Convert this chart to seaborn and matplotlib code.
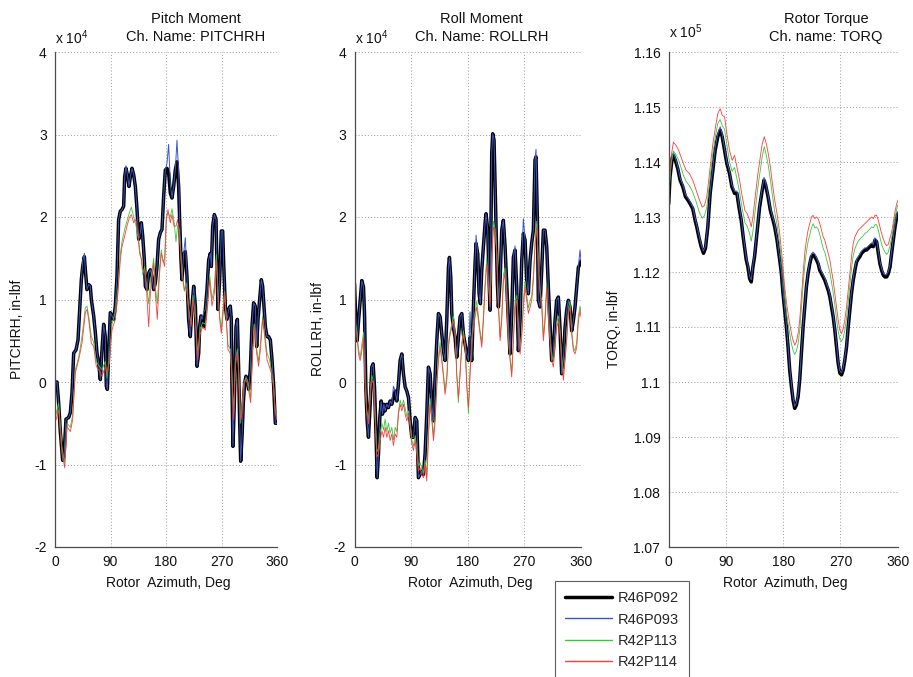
import numpy as np
import pandas as pd
import matplotlib
matplotlib.use("Agg")
import matplotlib.pyplot as plt
from matplotlib.lines import Line2D
import seaborn as sns

sns.set_style("white")
plt.rcParams["font.family"] = ["Liberation Sans", "DejaVu Sans"]
plt.rcParams["mathtext.fontset"] = "custom"
plt.rcParams["mathtext.rm"] = "Liberation Sans"
plt.rcParams["mathtext.it"] = "Liberation Sans"
plt.rcParams["axes.unicode_minus"] = False

RUNS = ["R46P092", "R46P093", "R42P113", "R42P114"]
COLORS = {"R46P092": "#000000", "R46P093": "#3a55c8", "R42P113": "#3cc43c", "R42P114": "#ff3b3b"}
WIDTHS = {"R46P092": 2.5, "R46P093": 0.7, "R42P113": 0.6, "R42P114": 0.6}

# ---------------- Pitch moment (x 1e4 in-lbf) ----------------
pitch_az_a = [0.0, 3.2, 5.9, 8.6, 12.4, 14.6, 17.8, 22.2, 24.9, 27.6,
              30.3, 34.1, 37.3, 39.5, 42.7, 44.9, 47.6, 49.2, 51.9, 54.6,
              57.3, 58.9, 62.7, 65.4, 68.1, 70.8, 73.5, 76.2, 78.9, 81.6,
              83.2, 84.9, 87.0, 89.7, 92.4, 95.1, 97.8, 100.5, 103.2, 105.9,
              108.6, 111.3, 113.0, 115.1, 117.8, 120.0, 122.2, 124.9, 127.6, 130.3,
              133.0, 135.7, 138.4, 140.0, 142.2, 144.9, 146.5, 149.2, 151.9, 154.6,
              157.3, 160.0, 162.7, 165.4, 168.1, 170.8, 173.5, 176.2, 178.9, 181.6,
              184.3, 187.0, 189.7, 192.4, 195.1, 197.8, 200.5, 202.1, 204.3, 205.9,
              208.6, 211.3, 214.0, 216.7, 219.4, 222.1, 224.9, 227.6, 230.3, 233.0,
              234.6, 236.7, 238.4, 241.1, 243.8, 246.5, 249.2, 251.9, 253.5, 255.7,
              258.4, 261.1, 262.7, 264.3, 267.0, 269.7, 271.9, 273.5, 276.2, 278.9,
              281.6, 284.3, 285.9, 287.0, 288.6, 290.8, 293.5, 295.7, 297.8, 299.4,
              301.1, 303.3, 305.4, 307.6, 309.7, 311.9, 314.0, 316.7, 319.4, 322.1,
              324.8, 327.0, 329.2, 331.9, 334.6, 336.7, 338.9, 341.1, 343.8, 346.5,
              349.2, 351.9, 354.6, 357.3, 360.0]
pitch_r46p092 = [0.0, 0.0, -0.25, -0.6, -0.95, -0.9, -0.45, -0.43, -0.37, -0.13,
                 0.35, 0.39, 0.51, 0.8, 1.24, 1.4, 1.52, 1.36, 1.12, 1.18,
                 1.16, 1.0, 0.8, 0.6, 0.35, 0.23, 0.03, 0.39, 0.7, 0.55,
                 -0.05, -0.09, 0.35, 0.84, 0.80, 0.76, 0.92, 1.28, 1.97, 2.07,
                 2.09, 2.13, 2.49, 2.59, 2.49, 2.37, 2.49, 2.59, 2.51, 2.37,
                 2.09, 1.73, 1.81, 1.93, 1.77, 1.48, 1.16, 1.12, 1.32, 1.36,
                 1.28, 1.12, 1.20, 1.40, 1.73, 1.81, 1.85, 2.25, 2.57, 2.59,
                 2.53, 2.29, 2.23, 2.37, 2.57, 2.67, 2.37, 1.97, 1.48, 1.24,
                 1.55, 1.58, 1.28, 0.76, 0.55, 0.92, 1.16, 0.92, 0.19, 0.35,
                 0.67, 0.80, 0.76, 0.67, 0.88, 1.12, 1.48, 1.56, 1.40, 1.89,
                 2.03, 1.97, 1.36, 0.88, 1.24, 1.83, 1.83, 1.44, 0.92, 0.76,
                 0.88, 0.92, 0.76, -0.05, -0.78, -0.25, 0.67, 0.76, 0.15, -0.46,
                 -0.96, -0.66, -0.25, -0.01, 0.07, 0.03, -0.09, 0.15, 0.67, 0.96,
                 0.92, 0.43, 0.76, 1.00, 1.24, 1.16, 0.92, 0.67, 0.55, 0.55,
                 0.51, 0.27, -0.05, -0.5, -0.5]
pitch_r46p093 = [0.0, 0.0, -0.25, -0.6, -0.95, -0.9, -0.45, -0.43, -0.37, -0.13,
                 0.35, 0.39, 0.51, 0.8, 1.24, 1.46, 1.56, 1.36, 1.12, 1.18,
                 1.16, 1.0, 0.8, 0.6, 0.35, 0.23, 0.03, 0.39, 0.7, 0.55,
                 -0.05, -0.09, 0.35, 0.84, 0.80, 0.76, 0.92, 1.28, 1.97, 2.07,
                 2.09, 2.13, 2.49, 2.62, 2.49, 2.37, 2.49, 2.59, 2.51, 2.37,
                 2.09, 1.73, 1.81, 1.93, 1.77, 1.48, 1.16, 1.12, 1.32, 1.36,
                 1.28, 1.12, 1.20, 1.40, 1.73, 1.81, 1.85, 2.25, 2.57, 2.65,
                 2.88, 2.40, 2.23, 2.37, 2.57, 2.93, 2.55, 1.97, 1.48, 1.24,
                 1.55, 1.75, 1.28, 0.76, 0.55, 0.92, 1.16, 0.92, 0.19, 0.35,
                 0.67, 0.80, 0.76, 0.85, 0.88, 1.12, 1.48, 1.56, 1.40, 1.89,
                 2.03, 1.97, 1.36, 0.88, 1.24, 1.83, 1.83, 1.44, 0.92, 0.76,
                 0.88, 0.92, 0.76, -0.05, -0.78, -0.25, 0.67, 0.76, 0.15, -0.46,
                 -0.96, -0.66, -0.25, -0.01, 0.07, 0.03, -0.09, 0.15, 0.67, 0.96,
                 0.92, 0.43, 0.76, 1.00, 1.24, 1.16, 0.92, 0.67, 0.55, 0.55,
                 0.51, 0.27, -0.05, -0.5, -0.5]
pitch_az_b = [0.0, 5.9, 11.4, 15.7, 19.5, 24.9, 28.6, 33.0, 38.4, 43.8,
              49.2, 51.9, 54.6, 58.9, 62.7, 67.0, 70.8, 76.2, 81.6, 84.3,
              88.1, 92.4, 97.8, 102.2, 105.9, 108.6, 113.0, 116.7, 120.5, 123.8,
              127.6, 131.3, 134.6, 137.3, 140.0, 142.2, 145.4, 148.1, 151.9, 154.6,
              157.3, 160.0, 162.7, 165.9, 169.2, 172.4, 175.1, 177.8, 180.5, 183.2,
              187.0, 189.7, 193.0, 196.2, 198.9, 201.6, 204.3, 207.0, 209.7, 213.0,
              216.7, 220.5, 223.8, 227.6, 231.3, 235.7, 239.4, 243.8, 247.6, 250.8,
              254.6, 258.4, 261.6, 264.3, 267.0, 269.7, 271.9, 275.1, 277.8, 280.5,
              284.3, 287.0, 289.7, 292.4, 295.7, 297.8, 301.1, 303.3, 306.5, 309.7,
              312.9, 317.3, 320.5, 323.8, 327.0, 330.2, 333.5, 336.7, 340.0, 343.8,
              347.5, 350.8, 354.1, 357.3, 360.0]
pitch_r42p113 = [-0.45, -0.25, -0.8, -0.98, -0.5, -0.55, -0.4, 0.15, 0.3, 0.55,
                 0.9, 0.92, 0.8, 0.55, 0.48, 0.25, 0.2, 0.15, 0.25, 0.05,
                 0.3, 0.7, 0.85, 1.15, 1.55, 1.7, 1.85, 1.95, 2.05, 2.12,
                 2.0, 1.9, 1.75, 1.55, 1.5, 1.3, 1.4, 1.2, 0.95, 1.2,
                 1.35, 1.5, 1.15, 0.95, 1.35, 1.6, 1.45, 1.5, 2.0, 2.05,
                 2.0, 2.1, 1.95, 1.7, 1.9, 1.85, 1.55, 1.3, 1.1, 1.2,
                 0.9, 0.7, 1.05, 0.8, 0.35, 0.65, 0.72, 0.7, 1.0, 1.3,
                 1.0, 1.15, 1.55, 1.1, 0.8, 0.65, 0.85, 1.1, 0.75, 0.45,
                 0.4, 0.1, -0.4, 0.25, 0.4, 0.15, -0.5, -0.3, 0.0, 0.05,
                 0.0, -0.2, 0.4, 0.7, 0.4, 0.25, 0.5, 0.8, 0.6, 0.35,
                 0.28, 0.15, 0.0, -0.35, -0.42]
pitch_r42p114 = [-0.5, -0.34, -0.86, -1.04, -0.54, -0.6, -0.46, 0.11, 0.27, 0.47,
                 0.84, 0.88, 0.76, 0.47, 0.43, 0.19, 0.15, 0.07, 0.19, 0.11,
                 0.23, 0.63, 0.76, 1.08, 1.48, 1.64, 1.77, 1.89, 1.99, 2.03,
                 1.93, 1.97, 1.81, 1.6, 1.48, 1.36, 1.36, 1.16, 0.67, 1.08,
                 1.24, 1.44, 1.08, 0.76, 1.28, 1.56, 1.48, 1.4, 1.97, 2.09,
                 1.93, 2.03, 1.89, 1.89, 1.97, 1.77, 1.48, 1.28, 1.12, 1.16,
                 0.88, 0.67, 1.0, 0.76, 0.27, 0.59, 0.67, 0.63, 0.92, 1.24,
                 0.92, 1.08, 1.48, 1.08, 0.76, 0.59, 0.76, 1.08, 0.76, 0.39,
                 0.35, 0.03, -0.46, 0.19, 0.35, 0.11, -0.46, -0.38, -0.01, 0.03,
                 -0.05, -0.25, 0.35, 0.67, 0.35, 0.19, 0.43, 0.76, 0.55, 0.27,
                 0.19, 0.11, -0.05, -0.38, -0.46]

# ---------------- Roll moment (x 1e4 in-lbf) ----------------
roll_az_a = [0.0, 2.6, 4.2, 6.4, 9.0, 11.6, 14.3, 15.9, 18.0, 20.1,
             22.2, 24.9, 27.5, 29.6, 31.8, 33.9, 36.0, 38.1, 40.2, 42.4,
             44.5, 46.6, 48.7, 51.4, 54.0, 56.6, 59.3, 61.9, 64.6, 67.2,
             69.9, 72.5, 75.2, 77.8, 80.5, 83.1, 85.8, 88.4, 91.1, 93.7,
             96.4, 99.0, 101.6, 104.3, 106.9, 109.6, 112.2, 114.9, 117.5, 120.2,
             122.8, 125.5, 128.1, 130.8, 133.4, 136.1, 138.7, 141.3, 144.0, 146.6,
             149.3, 150.9, 153.0, 154.6, 157.2, 159.9, 162.5, 165.2, 167.8, 170.5,
             173.1, 175.8, 178.4, 181.1, 183.7, 186.3, 189.0, 191.6, 193.2, 195.9,
             198.0, 200.1, 202.2, 204.9, 207.5, 209.1, 211.8, 213.9, 215.5, 217.0,
             218.1, 219.7, 221.8, 223.5, 225.0, 227.1, 228.7, 231.4, 234.0, 236.6,
             239.3, 241.9, 244.6, 247.2, 249.9, 252.5, 255.2, 257.8, 260.5, 263.1,
             265.8, 268.4, 271.1, 273.7, 276.3, 279.0, 281.6, 284.3, 286.9, 288.5,
             290.7, 292.2, 294.9, 297.5, 300.2, 302.8, 305.5, 308.1, 310.8, 313.4,
             316.1, 318.7, 321.3, 324.0, 326.6, 329.3, 331.9, 334.6, 337.2, 339.9,
             342.5, 345.2, 347.8, 350.5, 353.1, 355.8, 358.4, 360.0]
roll_r46p092 = [1.19, 0.66, 0.5, 0.74, 0.99, 1.23, 1.15, 0.83, -0.06, -0.47,
                -0.67, -0.27, 0.18, 0.22, -0.06, -0.55, -1.16, -0.87, -0.43, -0.23,
                -0.39, -0.27, -0.35, -0.27, -0.31, -0.23, -0.27, -0.19, -0.11, -0.23,
                -0.02, 0.26, 0.34, 0.1, -0.06, -0.11, -0.19, -0.47, -0.67, -0.67,
                -0.43, -0.47, -1.16, -1.12, -1.08, -1.12, -0.87, -0.39, 0.18, 0.1,
                -0.27, -0.47, 0.06, 0.5, 0.83, 0.79, 0.58, 0.38, 0.26, 0.74,
                1.39, 1.51, 1.27, 0.83, 0.66, 0.54, 0.3, 0.54, 0.79, 0.83,
                0.58, 0.46, 0.34, 0.26, 0.54, 0.26, 0.91, 1.43, 1.68, 1.55,
                1.07, 0.95, 1.35, 1.64, 1.92, 2.04, 1.84, 1.23, 0.87, 1.96,
                2.77, 3.01, 2.93, 2.36, 1.84, 1.19, 0.91, 1.23, 1.84, 1.96,
                1.64, 1.19, 0.74, 0.34, 0.83, 1.51, 1.6, 1.15, 0.38, 0.74,
                1.47, 1.8, 1.72, 1.23, 1.07, 1.47, 1.68, 1.84, 2.69, 2.73,
                1.96, 0.99, 0.91, 1.35, 1.84, 1.84, 1.64, 1.15, 0.7, 0.26,
                0.38, 0.74, 0.99, 1.03, 0.66, 0.1, 0.26, 0.66, 0.87, 0.99,
                0.91, 0.62, 0.74, 0.91, 1.15, 1.39, 1.43, 1.47]
roll_r46p093 = [1.19, 0.66, 0.5, 0.74, 0.99, 1.23, 1.15, 0.83, -0.06, -0.47,
                -0.67, -0.27, 0.18, 0.22, -0.06, -0.55, -1.16, -0.87, -0.43, -0.23,
                -0.39, -0.27, -0.35, -0.27, -0.31, -0.23, -0.27, -0.05, -0.11, -0.23,
                -0.02, 0.26, 0.34, 0.1, -0.06, -0.11, -0.19, -0.47, -0.67, -0.67,
                -0.43, -0.47, -1.16, -1.12, -1.08, -1.12, -0.87, -0.39, 0.18, 0.1,
                -0.27, -0.47, 0.06, 0.5, 0.83, 0.79, 0.58, 0.38, 0.26, 0.74,
                1.39, 1.51, 1.27, 0.83, 0.66, 0.54, 0.3, 0.54, 0.79, 0.83,
                0.58, 0.46, 0.34, 0.26, 0.85, 0.26, 0.91, 1.43, 1.78, 1.55,
                1.07, 0.95, 1.35, 1.64, 1.92, 2.04, 1.84, 1.23, 0.87, 1.96,
                2.77, 3.01, 2.93, 2.36, 1.84, 1.19, 0.91, 1.23, 1.84, 1.96,
                1.64, 1.19, 0.74, 0.34, 0.83, 1.51, 1.65, 1.15, 0.38, 0.74,
                1.47, 1.98, 1.72, 1.23, 1.07, 1.47, 1.68, 1.84, 2.69, 2.82,
                1.96, 0.99, 0.91, 1.35, 1.84, 1.84, 1.64, 1.15, 0.7, 0.26,
                0.38, 0.74, 0.99, 1.03, 0.66, 0.1, 0.26, 0.66, 0.87, 0.99,
                0.91, 0.62, 0.74, 0.91, 1.15, 1.39, 1.6, 1.47]
roll_az_b = [0.0, 3.7, 6.4, 9.0, 11.7, 14.3, 17.0, 19.6, 22.3, 24.9,
             27.6, 30.2, 32.9, 35.5, 38.2, 40.8, 43.5, 46.1, 48.7, 51.4,
             54.0, 56.7, 59.3, 62.0, 64.6, 67.3, 69.9, 72.6, 75.2, 77.9,
             80.5, 83.2, 85.8, 88.5, 91.1, 93.7, 96.4, 99.0, 101.7, 104.3,
             107.0, 109.6, 112.3, 114.9, 117.6, 120.2, 122.9, 125.5, 128.2, 130.8,
             133.5, 136.1, 138.7, 141.4, 144.0, 146.7, 149.3, 152.0, 154.6, 157.3,
             159.9, 162.6, 165.2, 167.9, 170.5, 173.2, 175.8, 178.5, 181.1, 183.7,
             186.4, 189.0, 191.7, 194.3, 197.0, 199.6, 202.3, 204.9, 207.6, 210.2,
             212.9, 215.5, 218.2, 220.8, 223.5, 226.1, 228.7, 231.4, 234.0, 236.7,
             239.3, 242.0, 244.6, 247.3, 249.9, 252.6, 255.2, 257.9, 260.5, 263.2,
             265.8, 268.4, 271.1, 273.7, 276.4, 279.0, 281.7, 284.3, 287.0, 289.6,
             292.3, 294.9, 297.6, 300.2, 302.9, 305.5, 308.2, 310.8, 313.4, 316.1,
             318.7, 321.4, 324.0, 326.7, 329.3, 332.0, 334.6, 337.3, 339.9, 342.6,
             345.2, 347.9, 350.5, 353.2, 355.8, 358.5, 360.0]
roll_r42p113 = [0.8, 0.62, 0.4, 0.3, 0.45, 0.6, 0.0, -0.35, -0.45, -0.1,
                0.08, 0.0, -0.42, -0.85, -0.8, -0.62, -0.5, -0.58, -0.45, -0.6,
                -0.5, -0.62, -0.55, -0.7, -0.55, -0.6, -0.35, -0.22, -0.3, -0.22,
                -0.32, -0.42, -0.35, -0.5, -0.7, -0.78, -0.65, -0.8, -1.02, -0.98,
                -1.05, -1.1, -0.95, -1.12, -0.6, -0.2, -0.42, -0.65, -0.4, 0.0,
                0.32, 0.48, 0.3, 0.1, -0.1, 0.08, 0.48, 0.62, 0.7, 0.8,
                0.62, 0.05, -0.25, 0.15, 0.48, 0.62, 0.45, -0.02, -0.38, 0.15,
                0.52, 0.72, 0.85, 0.98, 0.8, 0.62, 0.48, 0.8, 1.2, 1.5,
                1.2, 0.98, 1.55, 1.95, 1.85, 1.6, 0.98, 0.55, 0.8, 1.3,
                1.38, 1.05, 0.55, 0.3, 0.12, 0.55, 0.98, 1.05, 0.72, 0.4,
                0.6, 0.98, 1.22, 1.05, 0.9, 0.98, 1.05, 1.3, 1.7, 1.95,
                1.45, 1.12, 0.98, 0.55, 0.8, 1.2, 0.8, 0.55, 0.32, 0.25,
                0.48, 0.72, 0.8, 0.62, 0.32, 0.1, 0.3, 0.55, 0.9, 0.98,
                0.62, 0.42, 0.38, 0.48, 0.8, 0.92, 0.85]
roll_r42p114 = [0.74, 0.58, 0.34, 0.26, 0.38, 0.54, -0.06, -0.39, -0.51, -0.15,
                0.02, -0.02, -0.47, -0.91, -0.87, -0.71, -0.59, -0.67, -0.55, -0.67,
                -0.59, -0.71, -0.63, -0.77, -0.63, -0.67, -0.39, -0.27, -0.35, -0.27,
                -0.39, -0.47, -0.39, -0.55, -0.75, -0.83, -0.71, -0.87, -1.08, -1.04,
                -1.12, -1.16, -1.0, -1.2, -0.67, -0.27, -0.47, -0.71, -0.47, -0.06,
                0.26, 0.42, 0.26, 0.06, -0.15, 0.02, 0.42, 0.58, 0.66, 0.74,
                0.58, 0.1, -0.19, 0.1, 0.42, 0.58, 0.42, -0.06, -0.31, 0.1,
                0.46, 0.66, 0.79, 0.91, 0.74, 0.58, 0.42, 0.74, 1.15, 1.43,
                1.15, 0.91, 1.47, 1.88, 1.8, 1.55, 0.91, 0.5, 0.74, 1.23,
                1.31, 0.99, 0.5, 0.26, 0.06, 0.5, 0.91, 0.99, 0.66, 0.34,
                0.54, 0.91, 1.15, 0.99, 0.83, 0.91, 0.99, 1.23, 1.64, 1.88,
                1.39, 1.07, 0.91, 0.5, 0.74, 1.15, 0.74, 0.5, 0.26, 0.18,
                0.42, 0.66, 0.74, 0.58, 0.26, 0.02, 0.26, 0.5, 0.83, 0.91,
                0.58, 0.38, 0.34, 0.42, 0.74, 0.87, 0.79]

# ---------------- Rotor torque (x 1e5 in-lbf) ----------------
torq_az_a = [0.0, 2.1, 5.3, 7.4, 10.5, 14.2, 17.9, 22.1, 26.3, 30.0,
             33.6, 37.8, 41.5, 44.1, 47.3, 51.0, 54.7, 57.8, 61.5, 65.2,
             69.4, 73.0, 77.2, 80.9, 84.1, 87.8, 91.4, 95.6, 99.3, 103.5,
             107.2, 110.4, 114.0, 117.7, 121.9, 124.5, 127.2, 129.8, 132.4, 135.0,
             138.7, 142.9, 147.1, 149.8, 152.4, 156.1, 159.8, 164.0, 166.6, 170.3,
             174.5, 177.1, 179.7, 182.3, 185.0, 187.6, 190.2, 192.9, 195.5, 198.1,
             200.7, 203.4, 206.0, 208.6, 211.3, 213.9, 216.5, 219.1, 221.8, 224.4,
             227.0, 229.7, 232.3, 234.9, 237.5, 240.2, 242.8, 245.4, 248.0, 250.7,
             253.3, 255.9, 258.5, 261.2, 263.8, 266.4, 269.1, 271.7, 274.3, 276.9,
             279.6, 282.2, 284.8, 287.4, 290.1, 292.7, 295.3, 298.0, 300.6, 303.2,
             305.8, 308.5, 311.1, 313.7, 316.3, 319.0, 321.6, 324.2, 326.9, 329.5,
             332.1, 334.7, 337.4, 340.0, 342.6, 345.2, 347.9, 350.5, 353.1, 355.8,
             358.4, 360.0]
torq_r46p092 = [1.1324, 1.1373, 1.1406, 1.1412, 1.1403, 1.1388, 1.1367, 1.1355, 1.1337, 1.1331,
                1.1324, 1.1315, 1.1294, 1.1282, 1.1264, 1.1246, 1.1234, 1.1243, 1.1282, 1.1343,
                1.1385, 1.1421, 1.1446, 1.1458, 1.1446, 1.1421, 1.1397, 1.1379, 1.1355, 1.1343,
                1.1343, 1.1318, 1.1294, 1.1258, 1.1222, 1.1209, 1.1188, 1.1182, 1.1209, 1.1228,
                1.1270, 1.1318, 1.1349, 1.1367, 1.1358, 1.1337, 1.1312, 1.1294, 1.1282, 1.1258,
                1.1222, 1.1198, 1.1161, 1.1131, 1.1100, 1.1064, 1.1022, 1.0992, 1.0967, 1.0952,
                1.0958, 1.0973, 1.1004, 1.1052, 1.1100, 1.1137, 1.1173, 1.1197, 1.1215, 1.1228,
                1.1231, 1.1228, 1.1222, 1.1215, 1.1203, 1.1197, 1.1191, 1.1185, 1.1176, 1.1167,
                1.1155, 1.1137, 1.1119, 1.1094, 1.1064, 1.1034, 1.1016, 1.1013, 1.1022, 1.1040,
                1.1064, 1.1100, 1.1131, 1.1161, 1.1185, 1.1203, 1.1218, 1.1224, 1.1228, 1.1234,
                1.1237, 1.1240, 1.1240, 1.1243, 1.1246, 1.1249, 1.1246, 1.1258, 1.1255, 1.1234,
                1.1215, 1.1203, 1.1194, 1.1191, 1.1191, 1.1197, 1.1209, 1.1234, 1.1258, 1.1282,
                1.1300, 1.1306]
torq_r46p093 = [1.1328, 1.1377, 1.1410, 1.1417, 1.1407, 1.1392, 1.1371, 1.1359, 1.1341, 1.1335,
                1.1328, 1.1319, 1.1298, 1.1286, 1.1268, 1.1250, 1.1238, 1.1247, 1.1286, 1.1347,
                1.1390, 1.1426, 1.1451, 1.1464, 1.1451, 1.1425, 1.1401, 1.1383, 1.1359, 1.1347,
                1.1347, 1.1322, 1.1298, 1.1262, 1.1226, 1.1213, 1.1192, 1.1186, 1.1213, 1.1232,
                1.1274, 1.1322, 1.1353, 1.1372, 1.1362, 1.1341, 1.1316, 1.1298, 1.1286, 1.1262,
                1.1226, 1.1202, 1.1165, 1.1135, 1.1104, 1.1068, 1.1026, 1.0996, 1.0971, 1.0956,
                1.0962, 1.0977, 1.1008, 1.1056, 1.1104, 1.1141, 1.1177, 1.1201, 1.1219, 1.1233,
                1.1236, 1.1233, 1.1226, 1.1219, 1.1207, 1.1201, 1.1195, 1.1189, 1.1180, 1.1171,
                1.1159, 1.1141, 1.1123, 1.1098, 1.1068, 1.1038, 1.1020, 1.1017, 1.1026, 1.1044,
                1.1068, 1.1104, 1.1135, 1.1165, 1.1189, 1.1207, 1.1222, 1.1228, 1.1232, 1.1238,
                1.1241, 1.1244, 1.1244, 1.1247, 1.1250, 1.1253, 1.1250, 1.1262, 1.1259, 1.1238,
                1.1219, 1.1207, 1.1198, 1.1195, 1.1195, 1.1201, 1.1213, 1.1238, 1.1262, 1.1286,
                1.1304, 1.1310]
torq_az_b = [0.0, 3.7, 7.4, 11.6, 15.8, 19.4, 23.1, 27.3, 32.6, 37.8,
             43.1, 48.3, 52.6, 56.2, 59.9, 64.1, 69.4, 73.6, 77.2, 80.9,
             84.1, 87.8, 91.4, 95.6, 99.8, 103.5, 107.2, 111.4, 115.6, 119.8,
             123.5, 127.2, 129.8, 132.4, 136.6, 140.3, 144.0, 147.1, 150.3, 153.5,
             156.6, 159.8, 163.0, 166.6, 170.3, 174.5, 178.7, 182.3, 186.0, 189.2,
             192.9, 195.5, 198.1, 200.7, 203.4, 206.0, 208.6, 211.3, 213.9, 216.5,
             219.1, 221.8, 224.4, 227.0, 229.7, 232.3, 234.9, 237.5, 240.2, 242.8,
             245.4, 248.0, 250.7, 253.3, 255.9, 258.5, 261.2, 263.8, 266.4, 269.1,
             271.7, 274.3, 276.9, 279.6, 282.2, 284.8, 287.4, 290.1, 292.7, 295.3,
             298.0, 300.6, 303.2, 305.8, 308.5, 311.1, 313.7, 316.3, 319.0, 321.6,
             324.2, 326.9, 329.5, 332.1, 334.7, 337.4, 340.0, 342.6, 345.2, 347.9,
             350.5, 353.1, 355.8, 358.4, 360.0]
torq_r42p113 = [1.1340, 1.1395, 1.1420, 1.1413, 1.1403, 1.1390, 1.1376, 1.1365, 1.1357, 1.1345,
                1.1328, 1.1308, 1.1298, 1.1302, 1.1318, 1.1360, 1.1415, 1.1448, 1.1470, 1.1477,
                1.1466, 1.1460, 1.1432, 1.1400, 1.1383, 1.1390, 1.1370, 1.1345, 1.1315, 1.1290,
                1.1283, 1.1270, 1.1256, 1.1274, 1.1318, 1.1355, 1.1385, 1.1410, 1.1428, 1.1412,
                1.1393, 1.1368, 1.1340, 1.1310, 1.1286, 1.1250, 1.1204, 1.1155, 1.1118, 1.1095,
                1.1070, 1.1058, 1.1050, 1.1056, 1.1070, 1.1094, 1.1135, 1.1176, 1.1212, 1.1237,
                1.1255, 1.1268, 1.1280, 1.1288, 1.1280, 1.1282, 1.1278, 1.1268, 1.1255, 1.1243,
                1.1236, 1.1224, 1.1212, 1.1200, 1.1182, 1.1163, 1.1140, 1.1115, 1.1092, 1.1078,
                1.1074, 1.1080, 1.1095, 1.1117, 1.1146, 1.1176, 1.1206, 1.1230, 1.1242, 1.1250,
                1.1256, 1.1260, 1.1263, 1.1266, 1.1270, 1.1272, 1.1275, 1.1278, 1.1282, 1.1280,
                1.1286, 1.1286, 1.1276, 1.1263, 1.1250, 1.1242, 1.1236, 1.1232, 1.1236, 1.1248,
                1.1262, 1.1278, 1.1298, 1.1314, 1.1322]
torq_r42p114 = [1.1349, 1.1409, 1.1436, 1.1430, 1.1421, 1.1409, 1.1397, 1.1385, 1.1379, 1.1367,
                1.1349, 1.1331, 1.1318, 1.1321, 1.1337, 1.1379, 1.1433, 1.1464, 1.1488, 1.1497,
                1.1485, 1.1482, 1.1452, 1.1421, 1.1403, 1.1412, 1.1391, 1.1367, 1.1337, 1.1312,
                1.1306, 1.1294, 1.1282, 1.1300, 1.1343, 1.1379, 1.1409, 1.1433, 1.1446, 1.1433,
                1.1415, 1.1391, 1.1361, 1.1331, 1.1306, 1.1270, 1.1222, 1.1173, 1.1137, 1.1113,
                1.1088, 1.1076, 1.1067, 1.1073, 1.1088, 1.1113, 1.1155, 1.1197, 1.1234, 1.1258,
                1.1276, 1.1288, 1.1300, 1.1303, 1.1297, 1.1300, 1.1297, 1.1288, 1.1276, 1.1264,
                1.1258, 1.1246, 1.1234, 1.1222, 1.1203, 1.1185, 1.1161, 1.1137, 1.1113, 1.1094,
                1.1088, 1.1097, 1.1113, 1.1137, 1.1167, 1.1197, 1.1228, 1.1252, 1.1264, 1.1270,
                1.1276, 1.1279, 1.1282, 1.1285, 1.1288, 1.1291, 1.1294, 1.1297, 1.1300, 1.1297,
                1.1303, 1.1303, 1.1294, 1.1282, 1.1270, 1.1260, 1.1252, 1.1248, 1.1250, 1.1262,
                1.1272, 1.1290, 1.1310, 1.1324, 1.1330]


def run_frame(az_a, run_092, run_093, az_b, run_113, run_114):
    parts = [
        pd.DataFrame({"azimuth": az_a, "value": run_092, "run": "R46P092"}),
        pd.DataFrame({"azimuth": az_a, "value": run_093, "run": "R46P093"}),
        pd.DataFrame({"azimuth": az_b, "value": run_113, "run": "R42P113"}),
        pd.DataFrame({"azimuth": az_b, "value": run_114, "run": "R42P114"}),
    ]
    return pd.concat(parts, ignore_index=True)


panels = [
    dict(df=run_frame(pitch_az_a, pitch_r46p092, pitch_r46p093,
                      pitch_az_b, pitch_r42p113, pitch_r42p114),
         rect=[55 / 913, 130 / 677, 222 / 913, 495 / 677],
         ylim=(-2, 4), yticks=[-2, -1, 0, 1, 2, 3, 4],
         title="Pitch Moment\nCh. Name: PITCHRH", title_x=0.635,
         ylabel="PITCHRH, in-lbf", ylabel_x=-0.171, expo="4", expo_y=1.010),
    dict(df=run_frame(roll_az_a, roll_r46p092, roll_r46p093,
                      roll_az_b, roll_r42p113, roll_r42p114),
         rect=[354.5 / 913, 130 / 677, 226.5 / 913, 495 / 677],
         ylim=(-2, 4), yticks=[-2, -1, 0, 1, 2, 3, 4],
         title="Roll Moment\nCh. Name: ROLLRH", title_x=0.56,
         ylabel="ROLLRH, in-lbf", ylabel_x=-0.161, expo="4", expo_y=1.010),
    dict(df=run_frame(torq_az_a, torq_r46p092, torq_r46p093,
                      torq_az_b, torq_r42p113, torq_r42p114),
         rect=[668.7 / 913, 130 / 677, 229 / 913, 495 / 677],
         ylim=(1.07, 1.16),
         yticks=[1.07, 1.08, 1.09, 1.10, 1.11, 1.12, 1.13, 1.14, 1.15, 1.16],
         title="Rotor Torque\nCh. name: TORQ", title_x=0.687,
         ylabel="TORQ, in-lbf", ylabel_x=-0.239, expo="5", expo_y=1.022),
]

fig = plt.figure(figsize=(9.13, 6.77), dpi=100)
spine_color = "#4d4d4d"

for p in panels:
    ax = fig.add_axes(p["rect"])
    sns.lineplot(data=p["df"], x="azimuth", y="value", hue="run", hue_order=RUNS,
                 palette=COLORS, size="run", size_order=RUNS, sizes=WIDTHS,
                 sort=False, estimator=None, legend=False, ax=ax)
    ax.set_xlim(0, 360)
    ax.set_ylim(*p["ylim"])
    ax.set_xticks([0, 90, 180, 270, 360])
    ax.set_yticks(p["yticks"])
    ax.set_yticklabels(["%g" % t for t in p["yticks"]])
    ax.grid(True, color="#9a9a9a", linestyle=(0, (1, 2.2)), linewidth=0.7)
    for side in ("top", "right"):
        ax.spines[side].set_visible(False)
    for side in ("left", "bottom"):
        ax.spines[side].set_color(spine_color)
        ax.spines[side].set_linewidth(0.9)
    ax.tick_params(direction="in", length=4, width=0.8, color=spine_color,
                   labelsize=10, pad=6, labelcolor="#111111")
    ax.set_xlabel("Rotor  Azimuth, Deg", fontsize=10, color="#111111")
    ax.xaxis.set_label_coords(0.51, -0.073)
    ax.xaxis.label.set_va("center")
    ax.set_ylabel(p["ylabel"], fontsize=10, color="#111111")
    ax.yaxis.set_label_coords(p["ylabel_x"], 0.44)
    ax.yaxis.label.set_va("center")
    ax.text(0.0, p["expo_y"], r"x 10$^{%s}$" % p["expo"], transform=ax.transAxes,
            ha="left", va="bottom", fontsize=10, color="#111111")
    ax.text(p["title_x"], 1.048, p["title"], transform=ax.transAxes,
            ha="center", va="center", fontsize=10.5, linespacing=1.35,
            color="#111111")

handles = [Line2D([], [], color=COLORS[r], linewidth=WIDTHS[r] if r == "R46P092" else 1.0)
           for r in RUNS]
leg = fig.legend(handles, RUNS, loc="upper left",
                 bbox_to_anchor=(555 / 913, 1 - 581 / 677),
                 bbox_transform=fig.transFigure, frameon=True, fancybox=False,
                 edgecolor="#333333", fontsize=10.5, handlelength=3.2,
                 handletextpad=0.4, borderpad=0.7, labelspacing=0.5,
                 borderaxespad=0.0)
leg.get_frame().set_linewidth(0.8)

fig.savefig("out.png", dpi=100)
